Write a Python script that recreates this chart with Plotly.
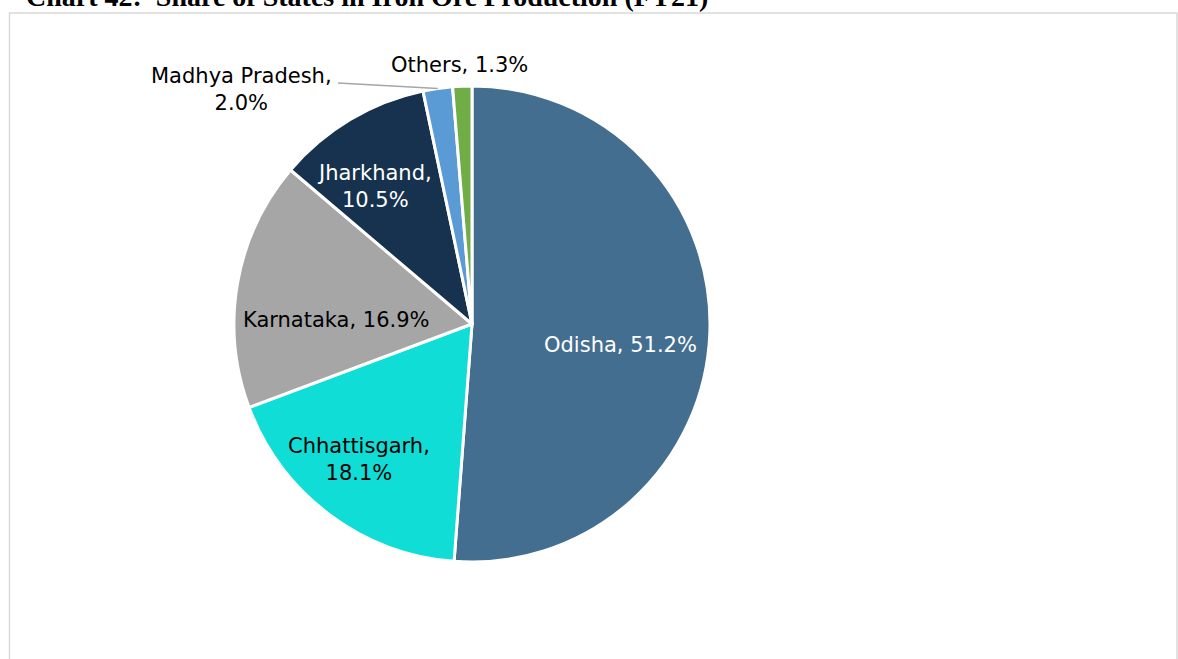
import math
import plotly.graph_objects as go

# Share of states in iron ore production, FY21 (%)
states = ["Odisha", "Chhattisgarh", "Karnataka", "Jharkhand", "Madhya Pradesh", "Others"]
shares = [51.2, 18.1, 16.9, 10.5, 2.0, 1.3]
colors = ["#436E90", "#10DED6", "#A6A6A6", "#17324F", "#5B9BD5", "#70AD47"]
text_colors = ["white", "black", "black", "white", "black", "black"]
# label line breaks: whether the value goes on its own line
label_breaks = [False, True, False, True, True, False]
# label placement: radial fraction of the pie radius, angular nudge (deg)
label_radius = [0.63, 0.74, 0.57, 0.71, 1.38, 1.09]
label_nudge = [6.0, 3.0, -8.0, -4.5, -36.2, -0.5]

W, H = 1178, 659
CX, CY, R = 472, 324, 238  # pie centre and radius in pixels

fig = go.Figure()
fig.add_trace(go.Pie(
    labels=states,
    values=shares,
    sort=False,
    direction="clockwise",
    rotation=0,
    marker=dict(colors=colors, line=dict(color="white", width=3)),
    textinfo="none",
    hoverinfo="label+percent",
    showlegend=False,
    domain=dict(x=[(CX - R) / W, (CX + R) / W], y=[1 - (CY + R) / H, 1 - (CY - R) / H]),
))

FONT = "DejaVu Sans"
annotations = []
total = sum(shares)
cum = 0.0
for i, (name, v) in enumerate(zip(states, shares)):
    mid = (cum + v / 2) / total * 360.0
    cum += v
    ang = math.radians(mid + label_nudge[i])
    px = CX + label_radius[i] * R * math.sin(ang)
    py = CY - label_radius[i] * R * math.cos(ang)
    sep = ",<br>" if label_breaks[i] else ", "
    annotations.append(dict(
        x=px / W, y=1 - py / H, xref="paper", yref="paper",
        text=f"{name}{sep}{v:.1f}%", showarrow=False,
        font=dict(family=FONT, size=21, color=text_colors[i]),
        xanchor="center", yanchor="middle", align="center",
    ))

# chart title (sits above the frame)
annotations.append(dict(
    x=24 / W, y=1 + 3.5 / H, xref="paper", yref="paper",
    text="<b>Chart 42:  Share of States in Iron Ore Production (FY21)</b>",
    showarrow=False, xanchor="left", yanchor="middle",
    font=dict(family="Liberation Serif", size=28, color="black"),
))

shapes = [
    # frame around the chart area
    dict(type="rect", xref="paper", yref="paper",
         x0=9.5 / W, x1=1177 / W, y0=-0.05, y1=1 - 13 / H,
         line=dict(color="#D9D9D9", width=1.5), fillcolor="rgba(0,0,0,0)", layer="below"),
]
# leader line for Madhya Pradesh
mp = states.index("Madhya Pradesh")
mp_mid = math.radians((sum(shares[:mp]) + shares[mp] / 2) / total * 360.0)
lx1 = CX + 1.0 * R * math.sin(mp_mid)
ly1 = CY - 1.0 * R * math.cos(mp_mid)
shapes.append(dict(type="line", xref="paper", yref="paper",
                   x0=338 / W, y0=1 - 83 / H, x1=lx1 / W, y1=1 - ly1 / H,
                   line=dict(color="#A6A6A6", width=1.5)))

fig.update_layout(
    width=W, height=H,
    margin=dict(l=0, r=0, t=0, b=0),
    paper_bgcolor="white", plot_bgcolor="white",
    annotations=annotations, shapes=shapes,
)

fig.write_html("out.html")
